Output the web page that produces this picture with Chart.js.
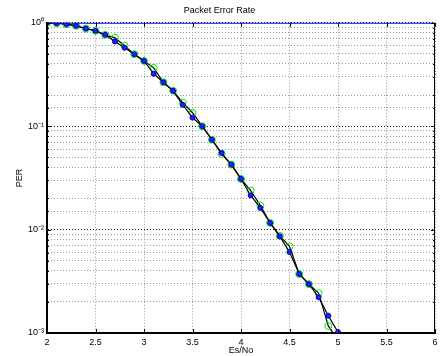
<!DOCTYPE html>
<html>
<head>
<meta charset="utf-8">
<script src="https://cdn.jsdelivr.net/npm/chart.js@4.4.1/dist/chart.umd.min.js"></script>
<style>
  html, body { margin: 0; padding: 0; background: #fff; }
  #wrap { width: 440px; height: 356px; }
</style>
</head>
<body>
<div id="wrap"><canvas id="myChart" width="440" height="356"></canvas></div>
<script>
const esNo = [2.0, 2.1, 2.2, 2.3, 2.4, 2.5, 2.6, 2.7, 2.8, 2.9, 3.0, 3.1, 3.2, 3.3, 3.4, 3.5,
    3.6, 3.7, 3.8, 3.9, 4.0, 4.1, 4.2, 4.3, 4.4, 4.5, 4.6, 4.7, 4.8, 4.9, 5.0]

const perBlue = [1.0, 0.99, 0.97, 0.935, 0.88, 0.836, 0.765, 0.66, 0.573, 0.497, 0.428, 0.321,
    0.266, 0.22, 0.161, 0.121, 0.1, 0.074, 0.055, 0.0425, 0.0309, 0.0214, 0.0162, 0.0116,
    0.0086, 0.00607, 0.00372, 0.00297, 0.00222, 0.00147, 0.00102]

const perGreen = [1.0, 0.99, 0.97, 0.935, 0.88, 0.836, 0.765, 0.716, 0.60, 0.497, 0.428, 0.367,
    0.266, 0.22, 0.169, 0.135, 0.1, 0.074, 0.054, 0.0425, 0.0309, 0.0238, 0.0171, 0.0116,
    0.0087, 0.00689, 0.00372, 0.00297, 0.00243, 0.00117, 0.00085]

// blue line along PER = 1
const topX = [2, 6]
const topY = [1, 1]

const xTicks = [2, 2.5, 3, 3.5, 4, 4.5, 5, 5.5, 6]
const yDecades = [1, 0.1, 0.01, 0.001]
const supers = { '0': '\u2070', '1': '\u00b9', '2': '\u00b2', '3': '\u00b3', '-': '\u207b' }

const toPoints = (xs, ys) => xs.map((x, i) => ({ x: x, y: ys[i] }))
const isDecade = (v) => yDecades.some(d => Math.abs(v - d) < d * 1e-6)
const fontFam = "'Liberation Sans', Arial, sans-serif"

// MATLAB style box with inward ticks
const boxPlugin = {
    id: 'box',
    afterDatasetsDraw(chart) {
        const { ctx, chartArea: a, scales } = chart
        ctx.save()
        ctx.strokeStyle = '#000'
        ctx.lineWidth = 1
        ctx.beginPath()
        ctx.moveTo(a.right - 0.5, a.top)
        ctx.lineTo(a.right - 0.5, a.bottom)
        scales.x.ticks.forEach(t => {
            const px = Math.round(scales.x.getPixelForValue(t.value)) + 0.5
            ctx.moveTo(px, a.bottom)
            ctx.lineTo(px, a.bottom - 4)
            ctx.moveTo(px, a.top)
            ctx.lineTo(px, a.top + 4)
        })
        scales.y.ticks.forEach(t => {
            const py = Math.round(scales.y.getPixelForValue(t.value)) + 0.5
            const len = isDecade(t.value) ? 4 : 2
            ctx.moveTo(a.left, py)
            ctx.lineTo(a.left + len, py)
            ctx.moveTo(a.right, py)
            ctx.lineTo(a.right - len, py)
        })
        ctx.stroke()
        ctx.restore()
    }
}

const ctx = document.querySelector("#myChart").getContext("2d")

new Chart(ctx, {
    type: 'line',
    data: {
        datasets: [
            {
                data: toPoints(topX, topY),
                borderColor: '#0000ff',
                borderWidth: 2,
                pointRadius: 0
            },
            {
                data: toPoints(esNo, perBlue),
                borderColor: '#000',
                borderWidth: 1.2,
                pointRadius: 2.5,
                pointBackgroundColor: '#2020ff',
                pointBorderColor: '#0000b0',
                pointBorderWidth: 1
            },
            {
                data: toPoints(esNo, perGreen),
                borderColor: '#000',
                borderWidth: 1.2,
                pointRadius: 3.5,
                pointBackgroundColor: 'rgba(0,0,0,0)',
                pointBorderColor: '#00ee00',
                pointBorderWidth: 1
            }
        ]
    },
    options: {
        responsive: false,
        animation: false,
        layout: { padding: { left: 0, right: 1, top: 0, bottom: 0 } },
        scales: {
            x: {
                type: 'linear',
                min: 2,
                max: 6,
                afterBuildTicks: (scale) => {
                    scale.ticks = xTicks.map(v => ({ value: v }))
                },
                afterFit: (scale) => {
                    scale.height = 23
                    scale.paddingLeft = 0
                    scale.paddingRight = 0
                },
                border: { color: '#000', width: 2, dash: [1, 2] },
                grid: {
                    color: '#999',
                    drawTicks: false
                },
                ticks: {
                    color: '#000',
                    padding: 4,
                    maxRotation: 0,
                    font: { family: fontFam, size: 9 },
                    callback: (value) => String(value)
                },
                title: {
                    display: true,
                    text: 'Es/No',
                    color: '#000',
                    padding: { top: 0, bottom: 0 },
                    font: { family: fontFam, size: 9 }
                }
            },
            y: {
                type: 'logarithmic',
                min: 0.001,
                max: 1,
                afterFit: (scale) => {
                    scale.width = 47
                    scale.paddingTop = 0
                    scale.paddingBottom = 0
                },
                border: { color: '#000', width: 2, dash: [1, 2] },
                grid: {
                    color: (c) => isDecade(c.tick.value) ? '#111' : '#999',
                    drawTicks: false
                },
                ticks: {
                    color: '#000',
                    padding: 3,
                    autoSkip: false,
                    font: { family: fontFam, size: 9 },
                    callback: (value) => {
                        if (!isDecade(value)) return ''
                        const exp = String(Math.round(Math.log10(value)))
                        return '10' + exp.split('').map(ch => supers[ch]).join('')
                    }
                },
                title: {
                    display: true,
                    text: 'PER',
                    color: '#000',
                    padding: { top: 14, bottom: 0 },
                    font: { family: fontFam, size: 9 }
                }
            }
        },
        plugins: {
            legend: { display: false },
            tooltip: { enabled: false },
            title: {
                display: true,
                text: 'Packet Error Rate',
                color: '#000',
                padding: { top: 5, bottom: 7 },
                font: { family: fontFam, size: 9, weight: 'normal' }
            }
        }
    },
    plugins: [boxPlugin]
})
</script>
</body>
</html>
